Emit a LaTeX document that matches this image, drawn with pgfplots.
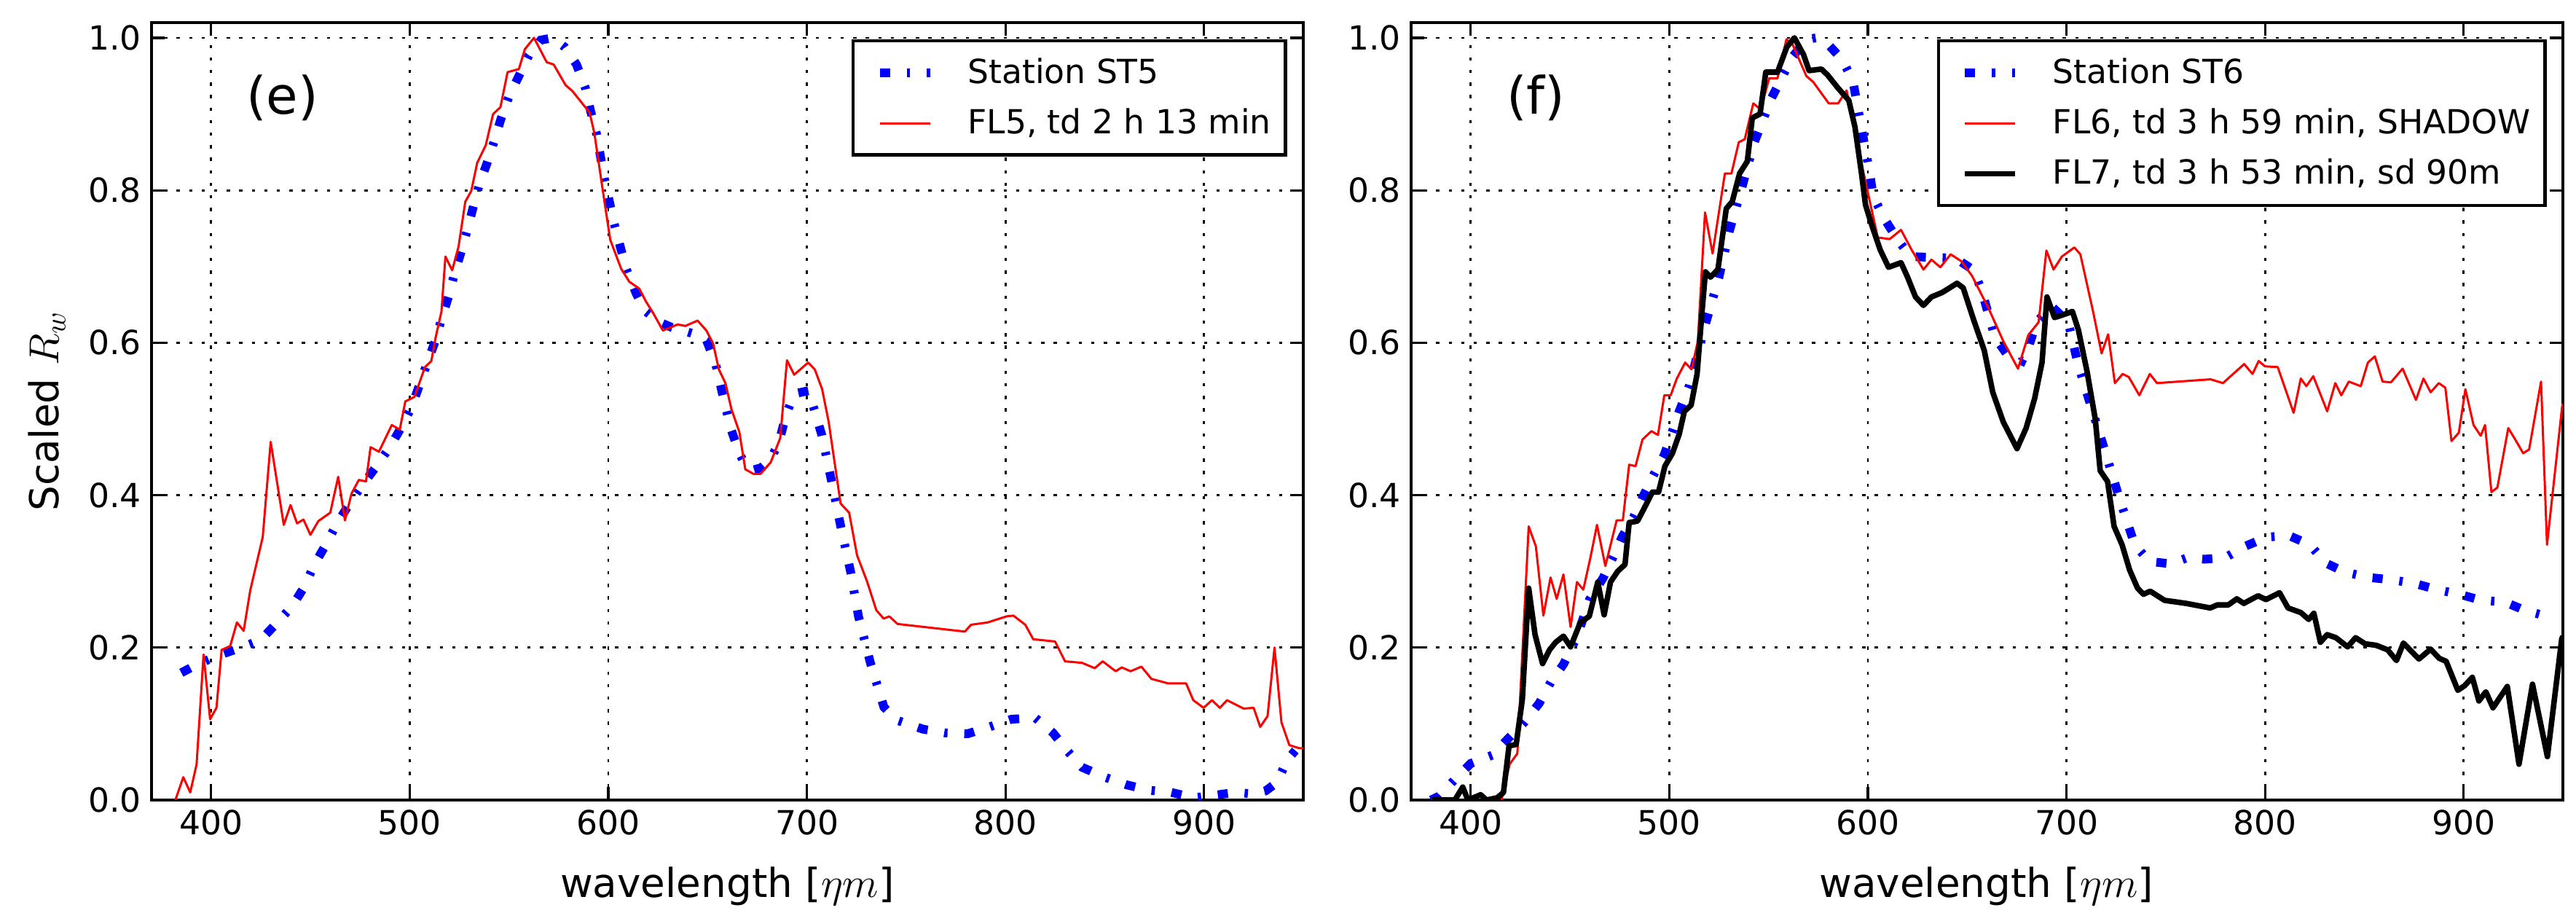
\documentclass[border=0pt]{standalone}
\usepackage{pgfplots}
\pgfplotsset{compat=1.18}
\usepackage{fontspec}
\setmainfont{DejaVu Sans}

\newcommand{\tickfont}{\fontsize{11.4}{13.7}\selectfont}
\newcommand{\labfont}{\fontsize{13.7}{16.4}\selectfont}
\newcommand{\panfont}{\fontsize{17.7}{21}\selectfont}

\pgfplotsset{
  panel/.style={
    scale only axis,
    width=395.25pt, height=266.75pt,
    xmin=370, xmax=950, ymin=0, ymax=1.02,
    xtick={400,500,600,700,800,900},
    xticklabels={400,500,600,700,800,900},
    ytick={0,0.2,0.4,0.6,0.8,1.0},
    yticklabels={0.0,0.2,0.4,0.6,0.8,1.0},
    tick label style={font=\tickfont, black},
    tick align=inside,
    major tick length=4.5pt,
    major tick style={black, line width=0.8pt},
    axis line style={black, line width=1.1pt},
    grid=major,
    major grid style={black, line width=0.7pt, dash pattern=on 1.1pt off 3.2pt},
    legend cell align=left,
    legend image code/.code={\path (-2.75pt,0pt); \draw[##1] (0pt,0pt) -- (17.25pt,0pt);},
    legend style={at={(rel axis cs:1,1)}, anchor=north east,
      xshift=-5.6pt, yshift=-5.75pt,
      draw=black, line width=1.1pt, fill=white,
      font=\tickfont, inner xsep=4.9pt, inner ysep=5.8pt,
      nodes={inner sep=0pt}, row sep=7.2pt, column sep=11.4pt},
  },
  stn/.style={blue, line width=3pt, dash pattern=on 3.5pt off 5.75pt on 1.15pt off 5.75pt},
  fl/.style={red, line width=0.75pt, line join=round},
  flk/.style={black, line width=1.9pt, line join=round},
}

\begin{document}
\begin{tikzpicture}
\useasboundingbox (-52pt,-41.5pt) rectangle (832pt,274.5pt);

%% ---------------- Panel (e) ----------------
\begin{axis}[panel, at={(0pt,0pt)}, anchor=south west]
\addplot[stn] coordinates {
(385,0.167)(393,0.178)(404,0.19)(415,0.20)(425,0.21)(433,0.232)(441,0.255)(447,0.28)
(452,0.309)(458,0.336)(463,0.361)(469,0.386)(475.5,0.411)(483,0.437)(490,0.463)(496,0.49)
(501,0.516)(505,0.545)(509,0.575)(513,0.603)(516,0.631)(519.5,0.66)(522.5,0.690)(526,0.72)
(529,0.748)(532,0.778)(535,0.807)(539,0.836)(542.5,0.864)(546,0.894)(550,0.923)(555,0.95)
(560,0.977)(566,0.997)(572,1.0)(578,0.988)(584,0.965)(588.5,0.934)(591,0.905)(594,0.875)
(598,0.816)(603,0.756)(609,0.697)(614,0.665)(618.5,0.642)(625,0.628)(632,0.62)(638.8,0.615)
(645,0.61)(649.5,0.603)(654,0.573)(659,0.516)(662,0.485)(666,0.455)(669,0.44)(673,0.433)
(677,0.436)(681.8,0.447)(686,0.47)(689.5,0.505)(693.6,0.533)(700.8,0.537)(704,0.51)
(707.4,0.48)(712.4,0.419)(717,0.36)(722,0.30)(726,0.241)(732,0.18)(738.8,0.122)(745,0.105)
(758.5,0.093)(770,0.088)(781,0.087)(792,0.096)(803,0.106)(815,0.108)(824,0.088)(831,0.065)
(838.6,0.043)(850,0.03)(861,0.02)(872,0.013)(883.5,0.01)(895,0.003)(904.5,0.006)(915.6,0.01)
(925,0.008)(931,0.012)(936.7,0.023)(942,0.053)(946,0.065)
};
\addlegendentry{Station ST5}
\addplot[fl] coordinates {
(382,0.0)(386,0.03)(389.5,0.01)(392.7,0.047)(396.2,0.191)(399.5,0.106)(402.7,0.121)
(405.3,0.197)(409.6,0.202)(413,0.233)(416.4,0.222)(419.7,0.275)(426,0.345)(430,0.47)
(436.6,0.361)(440,0.387)(443.3,0.363)(446.5,0.368)(450,0.348)(454,0.366)(460,0.377)
(464,0.424)(467.4,0.367)(470.7,0.402)(474.4,0.42)(478,0.418)(480.3,0.463)(484.5,0.457)
(491,0.492)(495,0.486)(497.8,0.523)(502.4,0.529)(507.7,0.568)(510.9,0.576)(513,0.606)
(516,0.641)(518,0.713)(521.4,0.695)(524.6,0.726)(528,0.785)(531,0.799)(534,0.836)
(538.3,0.859)(542,0.900)(545.7,0.909)(549.3,0.955)(555,0.959)(558,0.985)(562.6,1.0)
(569,0.968)(572.5,0.965)(578.5,0.938)(582,0.930)(590.6,0.902)(593,0.875)(597.4,0.797)
(601,0.735)(606.5,0.697)(610.6,0.680)(615.6,0.671)(619,0.654)(622.6,0.639)(627.5,0.616)
(635,0.624)(638.8,0.622)(645,0.629)(649.4,0.616)(652.8,0.599)(655.7,0.565)(659,0.547)
(662,0.513)(666,0.483)(669,0.434)(673,0.428)(676.7,0.428)(681.8,0.443)(686.6,0.475)
(690,0.577)(693.6,0.558)(700.7,0.574)(704,0.565)(707.7,0.539)(711,0.496)(717,0.389)
(721.3,0.377)(725.3,0.321)(730.3,0.287)(735,0.249)(738.7,0.238)(741.5,0.241)(745.7,0.231)
(779.6,0.221)(782.7,0.230)(791,0.233)(800.6,0.241)(804,0.242)(810,0.230)(814,0.211)
(825,0.208)(830,0.182)(838.6,0.180)(845,0.173)(849,0.182)(855.5,0.169)(858.6,0.174)
(863,0.169)(868.5,0.175)(873.5,0.159)(882,0.153)(891,0.153)(894.6,0.131)(899.8,0.121)
(904,0.131)(908,0.121)(911.6,0.131)(920,0.120)(925,0.121)(928.3,0.096)(932,0.110)
(935.5,0.20)(939,0.102)(943,0.072)(948,0.068)(950,0.068)
};
\addlegendentry{FL5, td 2 h 13 min}
\node[anchor=base west, font=\panfont] at (rel axis cs:0.0734,0.882) {(e)};
\end{axis}

%% ---------------- Panel (f) ----------------
\begin{axis}[panel, at={(432.25pt,0pt)}, anchor=south west]
\addplot[stn] coordinates {
(380,0.0)(384,0.005)(392,0.027)(400,0.048)(411,0.059)(419,0.081)(427,0.102)(434.5,0.127)
(440.4,0.155)(446.7,0.178)(453.5,0.214)(459.8,0.263)(466.6,0.291)(471.4,0.317)(476.2,0.345)
(482,0.371)(487.3,0.401)(492.4,0.428)(497.5,0.453)(505,0.51)(510,0.543)(518.5,0.627)
(525,0.686)(530.2,0.746)(536.5,0.803)(542.8,0.863)(551.3,0.92)(562,0.975)(569.3,0.998)
(574,1.0)(579.8,0.992)(587.2,0.971)(592.5,0.943)(596.7,0.883)(601,0.822)(602.6,0.793)
(608,0.764)(615,0.735)(621.5,0.713)(632,0.712)(644,0.711)(653.4,0.695)(657.6,0.666)
(664,0.607)(670,0.585)(677.6,0.576)(681,0.595)(685,0.627)(692.4,0.648)(700.9,0.627)
(706,0.570)(713.4,0.508)(720,0.453)(727,0.393)(734.4,0.335)(741.7,0.313)(752.4,0.31)
(761,0.318)(769.6,0.316)(779.9,0.318)(790,0.333)(801,0.345)(812,0.347)(822.6,0.335)
(830.5,0.311)(840.3,0.299)(852.4,0.292)(863.8,0.289)(875.5,0.284)(886.7,0.276)(897.9,0.27)
(908.9,0.262)(920.6,0.26)(930.7,0.249)(942,0.241)(945,0.238)
};
\addlegendentry{Station ST6}
\addplot[fl] coordinates {
(415.5,0.0)(419.6,0.047)(423.5,0.061)(429.2,0.359)(432.8,0.333)(436.6,0.242)(440.2,0.292)
(443.3,0.264)(446.7,0.296)(450.3,0.227)(453.5,0.286)(456.7,0.276)(460.2,0.317)(463.6,0.361)
(467.8,0.307)(473.5,0.367)(476.6,0.367)(479.8,0.440)(483,0.438)(486.5,0.473)(491,0.484)
(494.3,0.479)(497.5,0.531)(500.7,0.531)(503.8,0.553)(508,0.574)(511.2,0.565)(514.4,0.602)
(518,0.771)(521.8,0.717)(528,0.822)(531.3,0.822)(535,0.863)(538,0.867)(542.3,0.914)
(546,0.906)(550.3,0.947)(554.5,0.947)(559,0.998)(562,0.992)(569,0.95)(572.5,0.942)
(580.3,0.914)(585,0.914)(589.3,0.931)(595.7,0.848)(601,0.785)(605,0.738)(611,0.736)
(616.7,0.748)(622,0.722)(628,0.696)(632,0.709)(636.5,0.699)(641.7,0.716)(647,0.707)
(652.4,0.688)(660.8,0.645)(668.2,0.602)(675.6,0.566)(680.8,0.610)(686,0.627)(689.9,0.721)
(693.5,0.696)(697.7,0.713)(704,0.725)(707,0.716)(713.4,0.641)(717.7,0.586)(721,0.611)
(724.4,0.547)(728.3,0.559)(731.4,0.555)(736.7,0.531)(742,0.559)(745.6,0.547)(772.6,0.552)
(778.8,0.547)(789.5,0.572)(793.7,0.559)(796.8,0.576)(800,0.569)(806.4,0.568)(814.4,0.508)
(818,0.553)(820.8,0.543)(824.3,0.556)(831.3,0.510)(835.4,0.547)(838.4,0.531)(842.2,0.549)
(848.2,0.543)(851.8,0.574)(855.3,0.582)(859.2,0.549)(863.4,0.548)(869.3,0.566)(876,0.525)
(879.8,0.553)(883.4,0.535)(887.5,0.547)(890.8,0.541)(893.9,0.471)(897.6,0.482)(900.9,0.539)
(905,0.492)(908.6,0.478)(910.8,0.492)(914,0.404)(917,0.41)(922.5,0.488)(926,0.473)
(930,0.455)(933,0.46)(939,0.549)(942,0.335)(949.6,0.516)(950,0.52)
};
\addlegendentry{FL6, td 3 h 59 min, SHADOW}
\addplot[flk] coordinates {
(380.7,0.0)(392,0.0)(396,0.017)(398.6,0.0)(405,0.007)(408,0.0)(413.4,0.003)(416.5,0.01)
(419.3,0.071)(422.9,0.073)(426,0.132)(429.2,0.278)(432.4,0.217)(436.2,0.179)(439.7,0.197)
(442.8,0.207)(446.7,0.215)(450.3,0.201)(455.2,0.233)(459.7,0.241)(464,0.286)(467.2,0.243)
(470.4,0.286)(474,0.300)(477.7,0.309)(479.8,0.364)(484,0.366)(487.6,0.384)(491.5,0.404)
(494.6,0.404)(497.8,0.438)(501.6,0.455)(505,0.480)(507.6,0.510)(511,0.518)(514,0.559)
(516.5,0.641)(518.2,0.693)(520.7,0.686)(524.5,0.696)(528.7,0.776)(531.7,0.785)(535.4,0.822)
(539.3,0.838)(541.8,0.895)(545.7,0.900)(548.6,0.955)(554.5,0.955)(559.2,0.988)(563,1.0)
(567.6,0.978)(570.4,0.957)(576.6,0.959)(579.8,0.951)(585,0.934)(590.4,0.918)(593.5,0.883)
(596.7,0.824)(598.8,0.781)(602,0.754)(606.2,0.722)(610.4,0.699)(616.7,0.705)(620,0.686)
(624,0.660)(628,0.649)(632,0.660)(637.5,0.666)(644.9,0.678)(648,0.672)(653.4,0.629)
(658.6,0.590)(662.9,0.535)(668.2,0.496)(675.1,0.461)(679.7,0.488)(684,0.527)(687.7,0.574)
(690.2,0.660)(694,0.633)(698.7,0.637)(703,0.641)(706,0.617)(710.4,0.562)(714.5,0.50)
(717,0.432)(720.7,0.418)(724,0.359)(728,0.335)(731.8,0.302)(735.8,0.278)(738.8,0.270)
(742.2,0.274)(749.4,0.262)(760.3,0.258)(772.4,0.252)(776,0.256)(781.5,0.256)(785.8,0.264)
(789.3,0.258)(796.5,0.268)(800.5,0.263)(807.3,0.272)(811.6,0.252)(818,0.246)(822,0.237)
(824.6,0.245)(827.9,0.207)(831.3,0.217)(835.7,0.213)(841.6,0.201)(845.6,0.213)(850.4,0.205)
(856,0.203)(861.8,0.197)(866.2,0.183)(869.7,0.206)(877.5,0.185)(883.4,0.198)(887.7,0.186)
(891.2,0.182)(897.1,0.144)(900.5,0.150)(904.4,0.161)(907.7,0.130)(911.2,0.142)(914.8,0.121)
(922,0.149)(927.9,0.047)(934.7,0.152)(942.2,0.057)(949.4,0.211)(950,0.215)
};
\addlegendentry{FL7, td 3 h 53 min, sd 90m}
\node[anchor=base west, font=\panfont] at (rel axis cs:0.0741,0.882) {(f)};
\end{axis}

%% axis labels
\node[anchor=base, rotate=90, font=\labfont] at (-31.75pt,133.4pt) {Scaled $R_w$};
\node[anchor=base, font=\labfont] at (197.6pt,-33.5pt) {wavelength [$\eta m$]};
\node[anchor=base, font=\labfont] at (629.65pt,-33.5pt) {wavelength [$\eta m$]};
\end{tikzpicture}
\end{document}
